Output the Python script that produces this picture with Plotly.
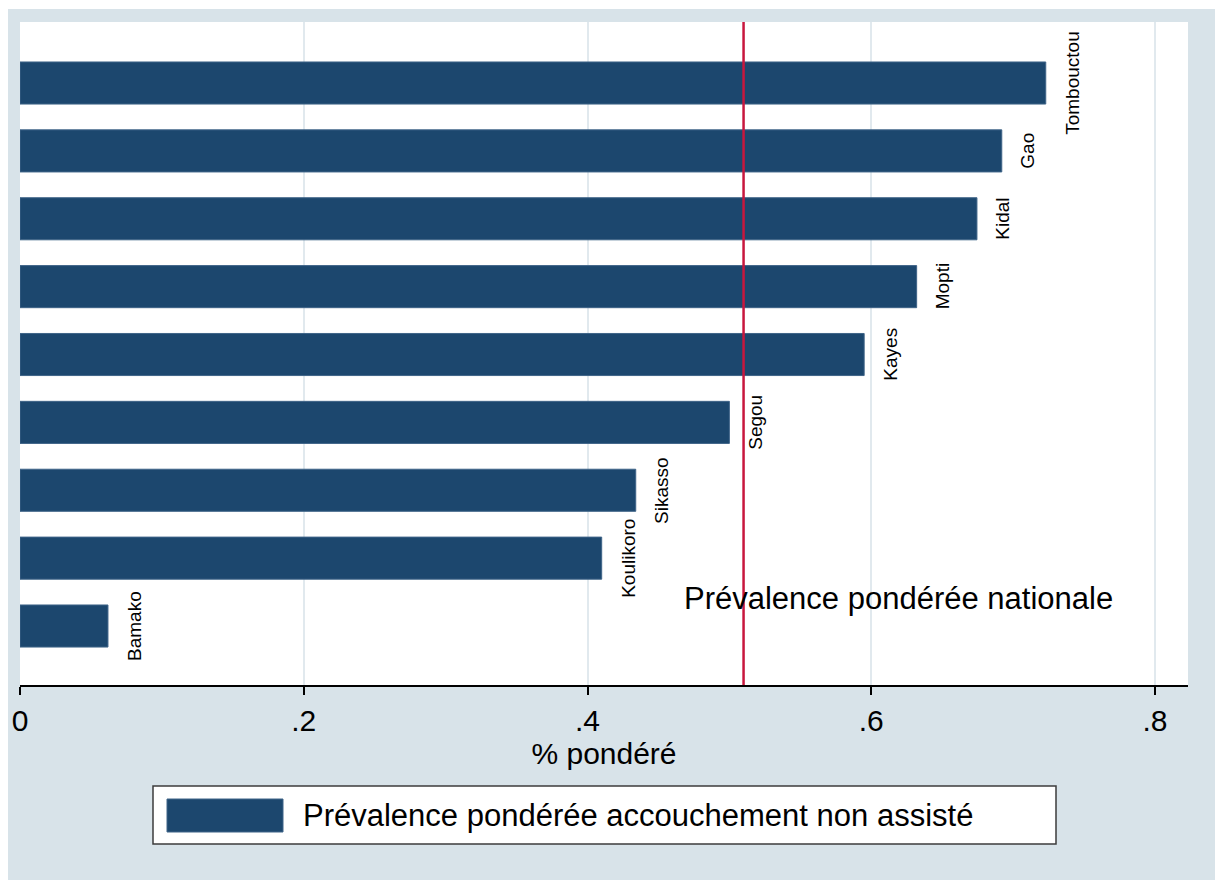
import plotly.graph_objects as go

# ---- data ----
regions = ["Bamako", "Koulikoro", "Sikasso", "Segou", "Kayes", "Mopti", "Kidal", "Gao", "Tombouctou"]
prevalence = [0.062, 0.410, 0.434, 0.500, 0.595, 0.632, 0.6745, 0.692, 0.723]
national_prevalence = 0.510
national_label = "Prévalence pondérée nationale"
series_name = "Prévalence pondérée accouchement non assisté"
x_tickvals = [0, 0.2, 0.4, 0.6, 0.8]
x_ticktext = ["0", ".2", ".4", ".6", ".8"]
x_title = "% pondéré"

# ---- layout constants ----
W, H = 1215, 880
ML, MR, MT, MB = 20, 27, 22, 195
PW, PH = W - ML - MR, H - MT - MB

BG = "rgb(216,227,233)"
NAVY = "#1c476e"
RED = "#c8173e"
FONT = "Liberation Sans, Arial, sans-serif"


def px_x(px):
    return (px - ML) / PW


def px_y(py):
    return (H - MB - py) / PH


fig = go.Figure()
fig.add_trace(go.Bar(
    x=prevalence, y=regions, orientation="h",
    marker=dict(color=NAVY, line=dict(color="#3f6488", width=1)),
    width=0.62, name=series_name, showlegend=False, hoverinfo="x+y",
))

fig.add_vline(x=national_prevalence, line=dict(color=RED, width=2.5), layer="above")

annotations = []
for r, v in zip(regions, prevalence):
    annotations.append(dict(
        x=v, y=r, xref="x", yref="y", text=r, showarrow=False,
        textangle=-90, xanchor="center", yanchor="middle", xshift=26,
        font=dict(family=FONT, size=19, color="black"),
    ))
annotations.append(dict(
    x=0.6195, y=0.41, xref="x", yref="y", text=national_label, showarrow=False,
    xanchor="center", yanchor="middle",
    font=dict(family=FONT, size=31, color="black"),
))
# manual legend text
annotations.append(dict(
    x=px_x(301), y=px_y(815), xref="paper", yref="paper", text=series_name,
    showarrow=False, xanchor="left", yanchor="middle",
    font=dict(family=FONT, size=31, color="black"),
))

shapes = [
    # white outer margins (left, top)
    dict(type="rect", xref="paper", yref="paper", x0=px_x(-5), x1=px_x(8), y0=px_y(H + 5), y1=px_y(-5),
         fillcolor="white", line=dict(width=0), layer="below"),
    dict(type="rect", xref="paper", yref="paper", x0=px_x(-5), x1=px_x(W + 5), y0=px_y(9), y1=px_y(-5),
         fillcolor="white", line=dict(width=0), layer="below"),
    # legend box
    dict(type="rect", xref="paper", yref="paper", x0=px_x(153), x1=px_x(1056), y0=px_y(844), y1=px_y(786),
         fillcolor="white", line=dict(color="#3c3c3c", width=1.5)),
    # legend swatch
    dict(type="rect", xref="paper", yref="paper", x0=px_x(167), x1=px_x(283), y0=px_y(832), y1=px_y(799),
         fillcolor=NAVY, line=dict(color="#3f6488", width=1)),
]

fig.update_layout(
    width=W, height=H,
    margin=dict(l=ML, r=MR, t=MT, b=MB, pad=0),
    paper_bgcolor=BG, plot_bgcolor="white",
    font=dict(family=FONT, color="black"),
    showlegend=False,
    bargap=0.38,
    annotations=annotations,
    shapes=list(fig.layout.shapes) + shapes,
    xaxis=dict(
        range=[0, PW / 1418.75], tickvals=x_tickvals, ticktext=x_ticktext,
        showgrid=True, gridcolor="rgb(225,233,238)", gridwidth=2, zeroline=False,
        showline=True, linecolor="black", linewidth=1.5,
        ticks="outside", ticklen=8, tickwidth=1.5, tickcolor="black",
        tickfont=dict(family=FONT, size=30, color="black"),
        title=dict(text=x_title, font=dict(family=FONT, size=30, color="black"), standoff=0),
    ),
    yaxis=dict(
        categoryorder="array", categoryarray=regions,
        range=[-0.869, 8.899], showticklabels=False, ticks="",
        showgrid=False, zeroline=False, showline=False,
    ),
)

fig.write_html("out.html")
